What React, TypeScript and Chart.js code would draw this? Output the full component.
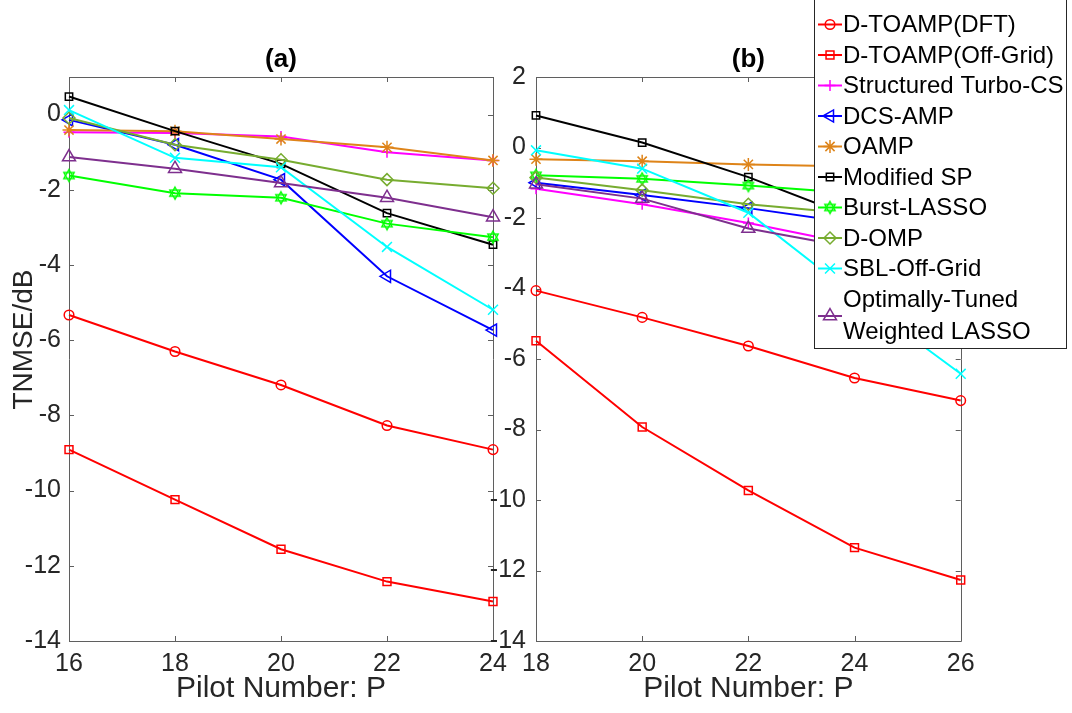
import React, { useEffect, useRef } from 'react';
import { Chart, registerables } from 'chart.js';
import { drawPoint } from 'chart.js/helpers';

Chart.register(...registerables);

// ---------------- DATA ----------------
const seriesNames = [
  'D-TOAMP(DFT)',
  'D-TOAMP(Off-Grid)',
  'Structured Turbo-CS',
  'DCS-AMP',
  'OAMP',
  'Modified SP',
  'Burst-LASSO',
  'D-OMP',
  'SBL-Off-Grid',
  'Optimally-Tuned Weighted LASSO',
];
const legendLines = [
  ['D-TOAMP(DFT)'],
  ['D-TOAMP(Off-Grid)'],
  ['Structured Turbo-CS'],
  ['DCS-AMP'],
  ['OAMP'],
  ['Modified SP'],
  ['Burst-LASSO'],
  ['D-OMP'],
  ['SBL-Off-Grid'],
  ['Optimally-Tuned', 'Weighted LASSO'],
];

const pilotA = [16, 18, 20, 22, 24];
const pilotB = [18, 20, 22, 24, 26];
const yTicksA = [-14, -12, -10, -8, -6, -4, -2, 0];
const yTicksB = [-14, -12, -10, -8, -6, -4, -2, 0, 2];

// Panel (a)
const dftA = [-5.33, -6.3, -7.19, -8.27, -8.91];
const offGridA = [-8.91, -10.24, -11.56, -12.42, -12.95];
const turboA = [-0.47, -0.49, -0.58, -1.0, -1.22];
const dcsA = [-0.14, -0.8, -1.73, -4.3, -5.73];
const oampA = [-0.41, -0.44, -0.65, -0.87, -1.22];
const modSpA = [0.48, -0.44, -1.31, -2.62, -3.46];
const burstA = [-1.62, -2.09, -2.21, -2.9, -3.26];
const domA = [-0.09, -0.8, -1.2, -1.73, -1.96];
const sblA = [0.12, -1.15, -1.4, -3.52, -5.19];
const otwlA = [-1.13, -1.44, -1.82, -2.21, -2.73];

// Panel (b)
const dftB = [-4.06, -4.82, -5.63, -6.54, -7.18];
const offGridB = [-5.48, -7.93, -9.73, -11.35, -12.27];
const turboB = [-1.17, -1.61, -2.14, -2.75, -3.3];
const dcsB = [-1.0, -1.35, -1.72, -2.15, -2.5];
const oampB = [-0.33, -0.39, -0.48, -0.54, -0.62];
const modSpB = [0.91, 0.14, -0.84, -2.0, -2.8];
const burstB = [-0.79, -0.89, -1.08, -1.3, -1.55];
const domB = [-0.85, -1.21, -1.61, -1.88, -2.1];
const sblB = [-0.08, -0.6, -1.85, -4.2, -6.42];
const otwlB = [-1.04, -1.45, -2.3, -2.85, -3.3];

const seriesA = [dftA, offGridA, turboA, dcsA, oampA, modSpA, burstA, domA, sblA, otwlA];
const seriesB = [dftB, offGridB, turboB, dcsB, oampB, modSpB, burstB, domB, sblB, otwlB];

// ---------------- STYLES ----------------
const FONT = "'Liberation Sans', Arial, Helvetica, sans-serif";
const TEXT = '#262626';
const AXIS = '#5f5f5f';

type St = { color: string; style: string; r: number; rot: number };
const styles: St[] = [
  { color: '#FF0000', style: 'circle', r: 4.8, rot: 0 },
  { color: '#FF0000', style: 'rect', r: 5.6, rot: 0 },
  { color: '#FF00FF', style: 'cross', r: 5.5, rot: 0 },
  { color: '#0000FF', style: 'triangle', r: 7, rot: -90 },
  { color: '#DE8419', style: 'star', r: 6.5, rot: 0 },
  { color: '#000000', style: 'rect', r: 5.2, rot: 0 },
  { color: '#00FF00', style: 'hexagram', r: 6, rot: 0 },
  { color: '#77AC30', style: 'rectRot', r: 6, rot: 0 },
  { color: '#00FFFF', style: 'crossRot', r: 7, rot: 0 },
  { color: '#7E2F8E', style: 'triangle', r: 7.5, rot: 0 },
];

function makeHexagram(color: string, R: number) {
  const size = Math.ceil(R * 2 + 4);
  const c = document.createElement('canvas');
  c.width = size;
  c.height = size;
  const g = c.getContext('2d')!;
  const cx = size / 2;
  const cy = size / 2;
  g.strokeStyle = color;
  g.lineWidth = 1.4;
  for (const off of [-Math.PI / 2, Math.PI / 2]) {
    g.beginPath();
    for (let k = 0; k < 3; k++) {
      const a = off + (k * 2 * Math.PI) / 3;
      const px = cx + R * Math.cos(a);
      const py = cy + R * Math.sin(a);
      if (k === 0) g.moveTo(px, py);
      else g.lineTo(px, py);
    }
    g.closePath();
    g.stroke();
  }
  return c;
}

function pointStyleOf(st: St): any {
  if (st.style === 'hexagram') return makeHexagram(st.color, st.r);
  return st.style;
}

const boxPlugin = {
  id: 'matlabBox',
  beforeDatasetsDraw(chart: any) {
    const { ctx, chartArea } = chart;
    const { left, right, top, bottom } = chartArea;
    const xs = chart.scales.x;
    const ys = chart.scales.y;
    ctx.save();
    ctx.strokeStyle = AXIS;
    ctx.lineWidth = 1;
    ctx.beginPath();
    ctx.rect(Math.round(left) + 0.5, Math.round(top) + 0.5, Math.round(right - left), Math.round(bottom - top));
    ctx.stroke();
    const tl = 5;
    ctx.beginPath();
    xs.ticks.forEach((t: any) => {
      const px = Math.round(xs.getPixelForValue(t.value)) + 0.5;
      ctx.moveTo(px, bottom);
      ctx.lineTo(px, bottom - tl);
      ctx.moveTo(px, top);
      ctx.lineTo(px, top + tl);
    });
    ys.ticks.forEach((t: any) => {
      const py = Math.round(ys.getPixelForValue(t.value)) + 0.5;
      ctx.moveTo(left, py);
      ctx.lineTo(left + tl, py);
      ctx.moveTo(right, py);
      ctx.lineTo(right - tl, py);
    });
    ctx.stroke();
    ctx.restore();
  },
};

function makeLegendPlugin(offsetX: number) {
  return {
    id: 'matlabLegend',
    afterDraw(chart: any) {
      const ctx = chart.ctx;
      const boxL = 814 - offsetX;
      const boxR = 1066 - offsetX;
      const boxT = -1;
      const boxB = 348;
      ctx.save();
      ctx.fillStyle = '#FFFFFF';
      ctx.fillRect(boxL, boxT, boxR - boxL, boxB - boxT);
      ctx.strokeStyle = TEXT;
      ctx.lineWidth = 1;
      ctx.strokeRect(boxL + 0.5, boxT + 0.5, boxR - boxL, boxB - boxT);
      const rowsY = [24.5, 55, 85.5, 116, 146.5, 177, 207.5, 238, 268.5, 316];
      const lineX0 = 818 - offsetX;
      const lineX1 = 842 - offsetX;
      const markX = 830 - offsetX;
      const textX = 843 - offsetX;
      ctx.font = `24px ${FONT}`;
      ctx.textBaseline = 'middle';
      ctx.textAlign = 'left';
      chart.data.datasets.forEach((ds: any, i: number) => {
        const y = rowsY[i];
        ctx.strokeStyle = ds.borderColor;
        ctx.lineWidth = 2;
        ctx.beginPath();
        ctx.moveTo(lineX0, y);
        ctx.lineTo(lineX1, y);
        ctx.stroke();
        ctx.fillStyle = 'rgba(0,0,0,0)';
        ctx.strokeStyle = ds.pointBorderColor;
        ctx.lineWidth = ds.pointBorderWidth;
        drawPoint(ctx, { pointStyle: ds.pointStyle, rotation: ds.pointRotation, radius: ds.pointRadius, borderWidth: ds.pointBorderWidth } as any, markX, y);
        ctx.fillStyle = '#000000';
        const lines = legendLines[i];
        if (lines.length === 1) {
          ctx.fillText(lines[0], textX, y + 1);
        } else {
          ctx.fillText(lines[0], textX, 300);
          ctx.fillText(lines[1], textX, 332);
        }
      });
      ctx.restore();
    },
  };
}

type Panel = {
  title: string;
  xs: number[];
  yTicks: number[];
  yMin: number;
  yMax: number;
  series: number[][];
  yAxisWidth: number;
  yTickPad: number;
  padRight: number;
  yTitle: boolean;
  legendOffset: number | null;
};

function buildConfig(p: Panel): any {
  const N = seriesNames.length;
  const datasets = seriesNames.map((name, i) => {
    const st = styles[i];
    return {
      label: name,
      data: p.xs.map((x, j) => ({ x, y: p.series[i][j] })),
      borderColor: st.color,
      backgroundColor: 'rgba(0,0,0,0)',
      pointBorderColor: st.color,
      pointBackgroundColor: 'rgba(0,0,0,0)',
      pointStyle: pointStyleOf(st),
      pointRadius: st.r,
      pointRotation: st.rot,
      pointBorderWidth: 1.5,
      borderWidth: 2,
      tension: 0,
      fill: false,
      clip: false,
      order: N - i,
    };
  });
  const plugins: any[] = [boxPlugin];
  if (p.legendOffset !== null) plugins.push(makeLegendPlugin(p.legendOffset));
  return {
    type: 'line',
    data: { datasets },
    plugins,
    options: {
      animation: false,
      responsive: false,
      events: [],
      layout: { padding: { left: 0, right: p.padRight, top: 40, bottom: 0 } },
      plugins: {
        legend: { display: false },
        tooltip: { enabled: false },
        title: {
          display: true,
          text: p.title,
          fullSize: false,
          color: '#000000',
          font: { family: FONT, size: 26, weight: 'bold', lineHeight: 1.2 },
          padding: { top: 4.4, bottom: 1.4 },
        },
      },
      scales: {
        x: {
          type: 'linear',
          min: p.xs[0],
          max: p.xs[p.xs.length - 1],
          afterBuildTicks: (s: any) => {
            s.ticks = p.xs.map((v) => ({ value: v }));
          },
          afterFit: (s: any) => {
            s.height = 72;
          },
          grid: { display: false, drawTicks: false },
          border: { display: false },
          ticks: { color: TEXT, font: { family: FONT, size: 25 }, padding: 8, maxRotation: 0, autoSkip: false },
          title: {
            display: true,
            text: 'Pilot Number: P',
            color: TEXT,
            font: { family: FONT, size: 30, lineHeight: 1.2 },
            padding: { top: 0, bottom: 6 },
          },
        },
        y: {
          type: 'linear',
          min: p.yMin,
          max: p.yMax,
          afterBuildTicks: (s: any) => {
            s.ticks = p.yTicks.map((v) => ({ value: v }));
          },
          afterFit: (s: any) => {
            s.width = p.yAxisWidth;
          },
          grid: { display: false, drawTicks: false },
          border: { display: false },
          ticks: { color: TEXT, font: { family: FONT, size: 25 }, padding: p.yTickPad, autoSkip: false },
          title: {
            display: p.yTitle,
            text: '     TNMSE/dB',
            color: TEXT,
            font: { family: FONT, size: 28, lineHeight: 1.2 },
            padding: { top: 7, bottom: 0 },
          },
        },
      },
    },
  };
}

const CANVAS_B_LEFT = 480;

export default function App() {
  const refA = useRef<HTMLCanvasElement>(null);
  const refB = useRef<HTMLCanvasElement>(null);
  useEffect(() => {
    const a = new Chart(
      refA.current!,
      buildConfig({
        title: '(a)',
        xs: pilotA,
        yTicks: yTicksA,
        yMin: -14,
        yMax: 1,
        series: seriesA,
        yAxisWidth: 69,
        yTickPad: 8,
        padRight: 27,
        yTitle: true,
        legendOffset: null,
      })
    );
    const b = new Chart(
      refB.current!,
      buildConfig({
        title: '(b)',
        xs: pilotB,
        yTicks: yTicksB,
        yMin: -14,
        yMax: 2,
        series: seriesB,
        yAxisWidth: 56,
        yTickPad: 10,
        padRight: 592 - 480.7,
        yTitle: false,
        legendOffset: CANVAS_B_LEFT,
      })
    );
    return () => {
      a.destroy();
      b.destroy();
    };
  }, []);
  return (
    <div style={{ position: 'absolute', left: 0, top: 0, width: 1072, height: 713, background: '#ffffff', overflow: 'hidden' }}>
      <canvas ref={refA} width={520} height={713} style={{ position: 'absolute', left: 0, top: 0 }} />
      <canvas ref={refB} width={592} height={713} style={{ position: 'absolute', left: CANVAS_B_LEFT, top: 0 }} />
    </div>
  );
}
